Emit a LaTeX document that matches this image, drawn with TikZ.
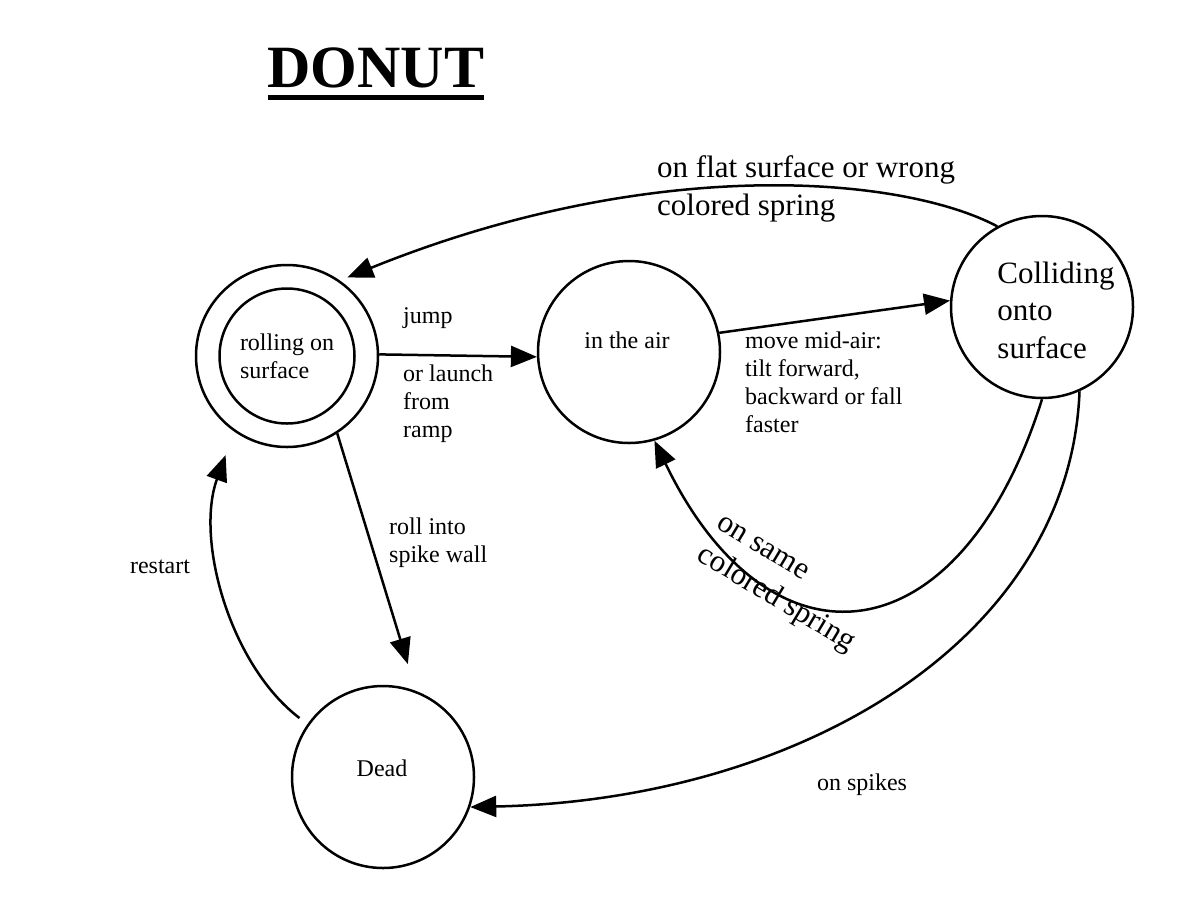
\documentclass[tikz,border=0pt]{standalone}
\usepackage{fontspec}
\setmainfont{Liberation Serif}
\usetikzlibrary{arrows.meta}
\newcommand{\thickul}[1]{\setbox0\hbox{#1}\rlap{\usebox0}\rule[-13pt]{\wd0}{5pt}}

\begin{document}
\begin{tikzpicture}[x=1pt, y=-1pt,
    stnode/.style={draw, circle, line width=2.5pt, minimum size=182pt, inner sep=0pt},
    lbl/.style={font=\fontsize{24}{28}\selectfont, align=left, inner sep=0pt},
    lblbig/.style={font=\fontsize{31}{37.5}\selectfont, align=left, inner sep=0pt},
    arr/.style={line width=2.5pt, -{Triangle[length=26pt, width=21pt]}}]

    \useasboundingbox (0,0) rectangle (1182,898);

    \node[font=\fontsize{60}{60}\selectfont\bfseries, anchor=base, inner sep=0pt] (title) at (376,87) {\thickul{DONUT}};

    % states
    \node[stnode] (roll) at (287,356) {};
    \node[stnode, lbl, minimum size=135pt] (rollin) at (roll) {rolling on\\surface};
    \node[stnode] (air) at (629,352) {};
    \node[lbl] (airtxt) at (627,340) {in the air};
    \node[stnode] (collide) at (1042,307) {};
    \node[lblbig] (collidetxt) at (1056,310) {Colliding\\onto\\surface};
    \node[stnode] (dead) at (383,777) {};
    \node[lbl] (deadtxt) at (382,768) {Dead};

    % transitions
    \draw[arr] (roll.1) -- (air.183);
    \draw[arr] (air.12) -- (collide.176);
    \draw[arr, shorten >=8pt] (collide.119) .. controls (900,175) and (650,155) .. (roll.55);
    \draw[arr, shorten >=28pt] (roll.-57) -- (dead.69);
    \draw[arr, shorten <=10pt, shorten >=25pt] (dead.145) .. controls (230,665) and (195,540) .. (roll.235);
    \draw[arr] (collide.-90) .. controls (960,660) and (770,680) .. (air.-74);
    \draw[arr] (collide.-66) .. controls (1070,640) and (800,800) .. (dead.-19);

    % labels
    \node[lbl, anchor=west] (lbljump) at (403,318) {jump};
    \node[lbl, anchor=west] (lbllaunch) at (403,404) {or launch\\from\\ramp};
    \node[lbl, anchor=west] (lblmove) at (745,382) {move mid-air:\\tilt forward,\\backward or fall\\faster};
    \node[lblbig, anchor=west] (lblflat) at (657,189) {on flat surface or wrong\\colored spring};
    \node[lbl, anchor=west] (lblwall) at (389,543) {roll into\\spike wall};
    \node[lbl] (lblrestart) at (160,567) {restart};
    \node[lbl] (lblspikes) at (862,785) {on spikes};
    \node[lblbig, rotate=-31] (lblsame) at (784,586) {on same\\colored spring};
\end{tikzpicture}
\end{document}
